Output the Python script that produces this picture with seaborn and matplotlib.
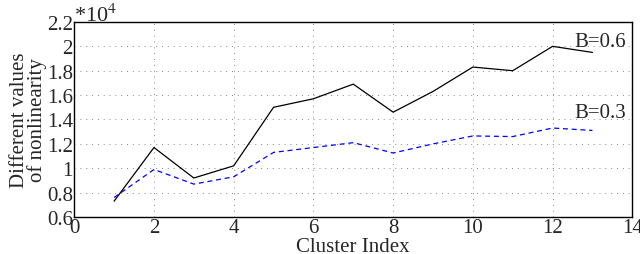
import matplotlib

matplotlib.use("Agg")

import matplotlib.pyplot as plt
import pandas as pd
import seaborn as sns

cluster_index = [1, 2, 3, 4, 5, 6, 7, 8, 9, 10, 11, 12, 13]
nonlin_b06 = [0.73, 1.17, 0.92, 1.02, 1.50, 1.57, 1.69, 1.46, 1.63, 1.83, 1.80, 2.00, 1.95]
nonlin_b03 = [0.76, 0.99, 0.87, 0.93, 1.13, 1.17, 1.21, 1.125, 1.20, 1.265, 1.26, 1.33, 1.31]
x_ticks = [0, 2, 4, 6, 8, 10, 12, 14]
y_ticks = [0.6, 0.8, 1.0, 1.2, 1.4, 1.6, 1.8, 2.0, 2.2]

sns.set_style("white")
plt.rcParams["font.family"] = ["Liberation Serif", "DejaVu Serif"]
plt.rcParams["mathtext.fontset"] = "stix"

df = pd.DataFrame({"idx": cluster_index, "b06": nonlin_b06, "b03": nonlin_b03})

fig, ax = plt.subplots(figsize=(6.4, 2.55), dpi=100)
fig.subplots_adjust(left=0.116, right=0.988, top=0.91, bottom=0.145)

sns.lineplot(data=df, x="idx", y="b06", ax=ax, color="black", linewidth=0.9)
sns.lineplot(data=df, x="idx", y="b03", ax=ax, color="blue", linewidth=0.9, linestyle=(0, (4, 3)))

ax.set_xlim(0, 14)
ax.set_ylim(0.6, 2.2)
ax.set_xticks(x_ticks)
ax.set_yticks(y_ticks)
ax.set_yticklabels([f"{v:g}" for v in y_ticks])
ax.tick_params(direction="in", labelsize=15, length=4, pad=1)
ax.grid(True, linestyle=(0, (1, 5)), color="#888888", linewidth=0.7)
for s in ax.spines.values():
    s.set_color("black")
    s.set_linewidth(1.0)

ax.set_xlabel("Cluster Index", fontsize=15, labelpad=0)
ax.set_ylabel("Different values\nof nonlinearity", fontsize=15, linespacing=0.85, labelpad=0)

ax.text(0.0, 1.005, r"*10$^4$", transform=ax.transAxes, fontsize=16, ha="left", va="baseline")
ax.text(13.85, 2.04, "B=0.6", fontsize=15, ha="right", va="center")
ax.text(13.85, 1.46, "B=0.3", fontsize=15, ha="right", va="center")

fig.savefig("out.png", dpi=100)
